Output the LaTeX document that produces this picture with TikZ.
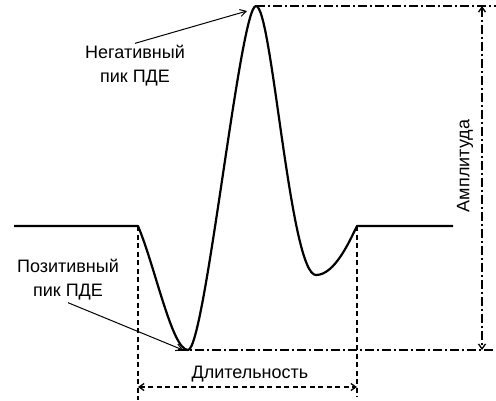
\documentclass[tikz,border=0pt]{standalone}
\usepackage{fontspec}
\setmainfont{Liberation Sans}
\usetikzlibrary{arrows.meta}
\begin{document}
\begin{tikzpicture}[x=1pt,y=-1pt,
  wave/.style={line width=2.2pt, line join=round},
  dashdot/.style={line width=1.3pt, dash pattern=on 9pt off 3pt on 2pt off 3pt},
  dashv/.style={line width=1.3pt, dash pattern=on 5pt off 3.5pt},
  pointer/.style={line width=1pt, -{Straight Barb[length=6pt,width=7pt]}},
  dim/.style={{Straight Barb[length=5pt,width=7pt]}-{Straight Barb[length=5pt,width=7pt]}},
  lbl/.style={font=\fontsize{18}{24}\selectfont, align=center, inner sep=2pt}]
\useasboundingbox (0,0) rectangle (496,400);
% key points
\coordinate (l0) at (14,226);
\coordinate (a) at (138,226);
\coordinate (pmin) at (188,350);
\coordinate (pmax) at (256,6);
\coordinate (nmin) at (316,275);
\coordinate (b) at (357,226);
\coordinate (r0) at (453,226);
% waveform
\draw[wave] (l0) -- (a)
  .. controls (155,266) and (172,350) .. (pmin)
  .. controls (205,350) and (240,6) .. (pmax)
  .. controls (272,6) and (290,275) .. (nmin)
  .. controls (335,275) and (350,240) .. (b) -- (r0);
% amplitude reference lines
\coordinate (topr) at (496,6);
\coordinate (botl) at (178,350);
\coordinate (botr) at (496,350);
\draw[dashdot] (pmax) -- (topr);
\draw[dashdot] (botl) -- (botr);
\coordinate (amptop) at (482,6);
\coordinate (ampbot) at (482,350);
\draw[dashdot,dim] (amptop) -- (ampbot);
\node[lbl, rotate=90] (amp) at (465,166) {Амплитуда};
% duration lines
\coordinate (aend) at (138,400);
\coordinate (bend) at (357,397);
\draw[dashv] (a) -- (aend);
\draw[dashv] (b) -- (bend);
\coordinate (dl) at (138,387);
\coordinate (dr) at (357,387);
\draw[dashv,dim] (dl) -- (dr);
\node[lbl] (dur) at (250,374) {Длительность};
% labels
\node[lbl] (negl) at (135,66) {Негативный\\пик ПДЕ};
\coordinate (negtip) at (247,11);
\draw[pointer] (negl.north) -- (negtip);
\node[lbl] (posl) at (68,280) {Позитивный\\пик ПДЕ};
\coordinate (postip) at (183,350);
\draw[pointer] (posl.south) -- (postip);
\end{tikzpicture}
\end{document}
